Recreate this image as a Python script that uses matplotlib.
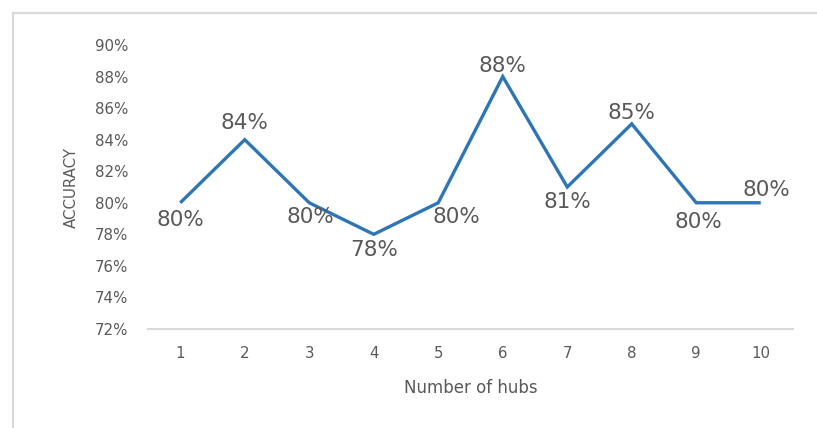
import matplotlib
matplotlib.use("Agg")
import matplotlib.pyplot as plt
from matplotlib.lines import Line2D
from matplotlib.ticker import FuncFormatter

hubs = [1, 2, 3, 4, 5, 6, 7, 8, 9, 10]
accuracy = [80, 84, 80, 78, 80, 88, 81, 85, 80, 80]
y_ticks = [72, 74, 76, 78, 80, 82, 84, 86, 88, 90]

# data-label placement (pixel offsets from each point)
label_dx = [0, 0, 1, 0, 18, 0, 0, 0, 2, 6]
label_dy = [-17, 17, -14, -16, -14, 11, -15, 11, -19, 13]

W, H = 817, 428
fig = plt.figure(figsize=(W / 100, H / 100), dpi=100)
plt.rcParams["font.family"] = ["DejaVu Sans"]

text_gray = "#595959"
line_blue = "#2E75B6"
axis_gray = "#D9D9D9"

# chart frame (top and left edges)
fig.add_artist(Line2D([13 / W, 13 / W], [0, 1 - 13 / H], transform=fig.transFigure,
                      color=axis_gray, lw=1.6))
fig.add_artist(Line2D([13 / W, 1], [1 - 13 / H, 1 - 13 / H], transform=fig.transFigure,
                      color=axis_gray, lw=1.6))

left, right, top, bottom = 148, 793, 45, 329
ax = fig.add_axes([left / W, 1 - bottom / H, (right - left) / W, (bottom - top) / H])

ax.plot(hubs, accuracy, color=line_blue, lw=2.4, solid_joinstyle="miter",
        solid_capstyle="butt", clip_on=False)

for x, y, dx, dy in zip(hubs, accuracy, label_dx, label_dy):
    ax.annotate(f"{y}%", (x, y), xytext=(dx, dy), textcoords="offset pixels",
                ha="center", va="center", fontsize=15.5, color=text_gray)

ax.set_xlim(0.5, 10.5)
ax.set_ylim(72, 90)
ax.set_xticks(hubs)
ax.set_yticks(y_ticks)
ax.yaxis.set_major_formatter(FuncFormatter(lambda v, p: f"{v:.0f}%"))

for s in ["top", "right", "left"]:
    ax.spines[s].set_visible(False)
ax.spines["bottom"].set_color(axis_gray)
ax.spines["bottom"].set_linewidth(1.5)
ax.tick_params(axis="both", length=0, labelsize=10.8, labelcolor=text_gray)
ax.tick_params(axis="y", pad=14)
ax.tick_params(axis="x", pad=12)

ax.set_xlabel("Number of hubs", fontsize=12, color=text_gray, labelpad=13)
ax.set_ylabel("ACCURACY", fontsize=10.8, color=text_gray, labelpad=12)

fig.savefig("out.png", dpi=100, facecolor="white")
